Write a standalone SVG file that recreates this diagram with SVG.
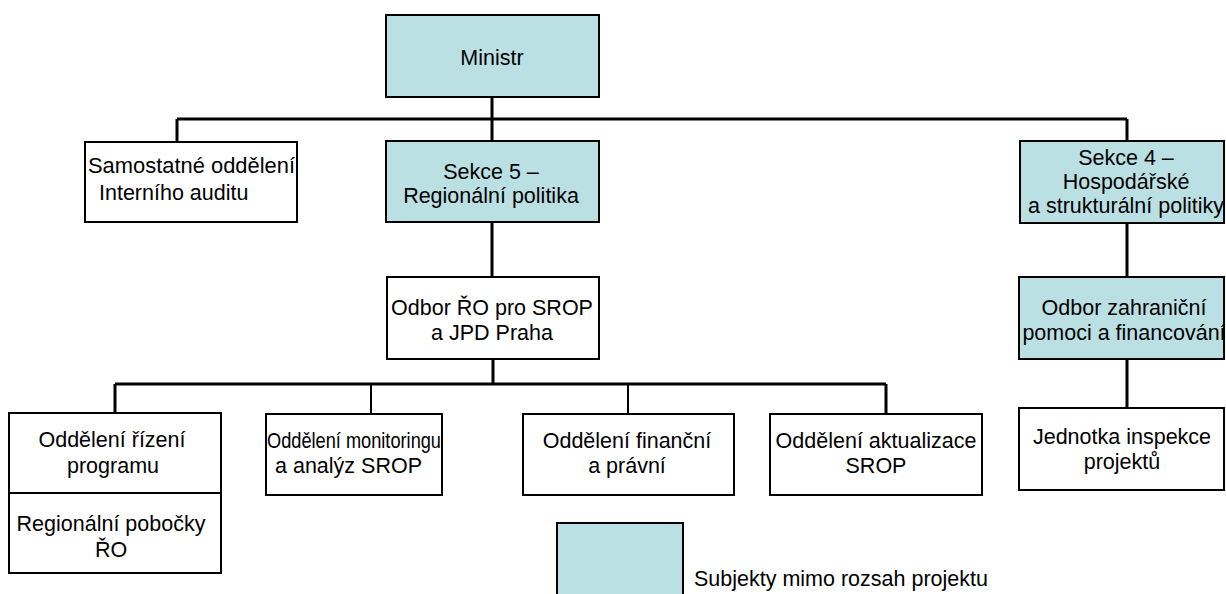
<svg xmlns="http://www.w3.org/2000/svg" width="1226" height="594" viewBox="0 0 1226 594">
<style>
.box{fill:#fff;stroke:#000;stroke-width:2}
.hl{fill:#BBE0E3;stroke:#000;stroke-width:2}
text{font-family:"Liberation Sans",Arial,sans-serif;font-size:21.5px;fill:#000}
.c{text-anchor:middle}
.ln{stroke:#000;stroke-width:3;fill:none}
.ln2{stroke:#000;stroke-width:2;fill:none}
</style>
<rect width="1226" height="594" fill="#fff"/>
<g id="connectors">
<path class="ln" d="M492 97V141M177 119H1127M177 119V142M1127 119V141"/>
<path class="ln" d="M492 222V277M493 359V384M115 384H886M115 384V413M886 384V414"/>
<path class="ln2" d="M371 384V414M628 384V414"/>
<path class="ln" d="M1127 223V277M1127 359V408"/>
</g>
<g id="ministr">
<rect class="hl" x="386" y="15" width="213" height="82"/>
<text class="c" x="492" y="65">Ministr</text>
</g>
<g id="samostatne">
<rect class="box" x="85" y="142" width="212" height="80"/>
<text x="88" y="173" textLength="207" lengthAdjust="spacingAndGlyphs">Samostatné oddělení</text>
<text x="99" y="200">Interního auditu</text>
</g>
<g id="sekce5">
<rect class="hl" x="386" y="141" width="213" height="81"/>
<text class="c" x="491" y="179">Sekce 5 –</text>
<text class="c" x="491" y="203">Regionální politika</text>
</g>
<g id="sekce4">
<rect class="hl" x="1020" y="141" width="204" height="82"/>
<text class="c" x="1126" y="165">Sekce 4 –</text>
<text class="c" x="1126" y="189">Hospodářské</text>
<text class="c" x="1126" y="213">a strukturální politiky</text>
</g>
<g id="odbor-ro">
<rect class="box" x="387" y="277" width="212" height="82"/>
<text class="c" x="492" y="315">Odbor ŘO pro SROP</text>
<text class="c" x="492" y="340">a JPD Praha</text>
</g>
<g id="odbor-zahranicni">
<rect class="hl" x="1019" y="277" width="205" height="82"/>
<text class="c" x="1124" y="315">Odbor zahraniční</text>
<text class="c" x="1124" y="340">pomoci a financování</text>
</g>
<g id="rizeni">
<rect class="box" x="9" y="413" width="212" height="80"/>
<text class="c" x="112" y="447">Oddělení řízení</text>
<text class="c" x="113" y="473">programu</text>
</g>
<g id="pobocky">
<rect class="box" x="9" y="493" width="212" height="80"/>
<text class="c" x="111" y="531">Regionální pobočky</text>
<text class="c" x="111" y="557">ŘO</text>
</g>
<g id="monitoring">
<rect class="box" x="266" y="414" width="176" height="81"/>
<text x="267" y="448" textLength="174" lengthAdjust="spacingAndGlyphs">Oddělení monitoringu</text>
<text x="275" y="473">a analýz SROP</text>
</g>
<g id="financni">
<rect class="box" x="523" y="414" width="211" height="81"/>
<text class="c" x="627" y="448">Oddělení finanční</text>
<text class="c" x="627" y="473">a právní</text>
</g>
<g id="aktualizace">
<rect class="box" x="770" y="414" width="212" height="81"/>
<text class="c" x="876" y="448">Oddělení aktualizace</text>
<text class="c" x="876" y="473">SROP</text>
</g>
<g id="jednotka">
<rect class="box" x="1019" y="408" width="205" height="82"/>
<text class="c" x="1122" y="444">Jednotka inspekce</text>
<text class="c" x="1122" y="469">projektů</text>
</g>
<g id="legend">
<rect class="hl" x="557" y="523" width="126" height="80"/>
<text x="694" y="586">Subjekty mimo rozsah projektu</text>
</g>
</svg>
